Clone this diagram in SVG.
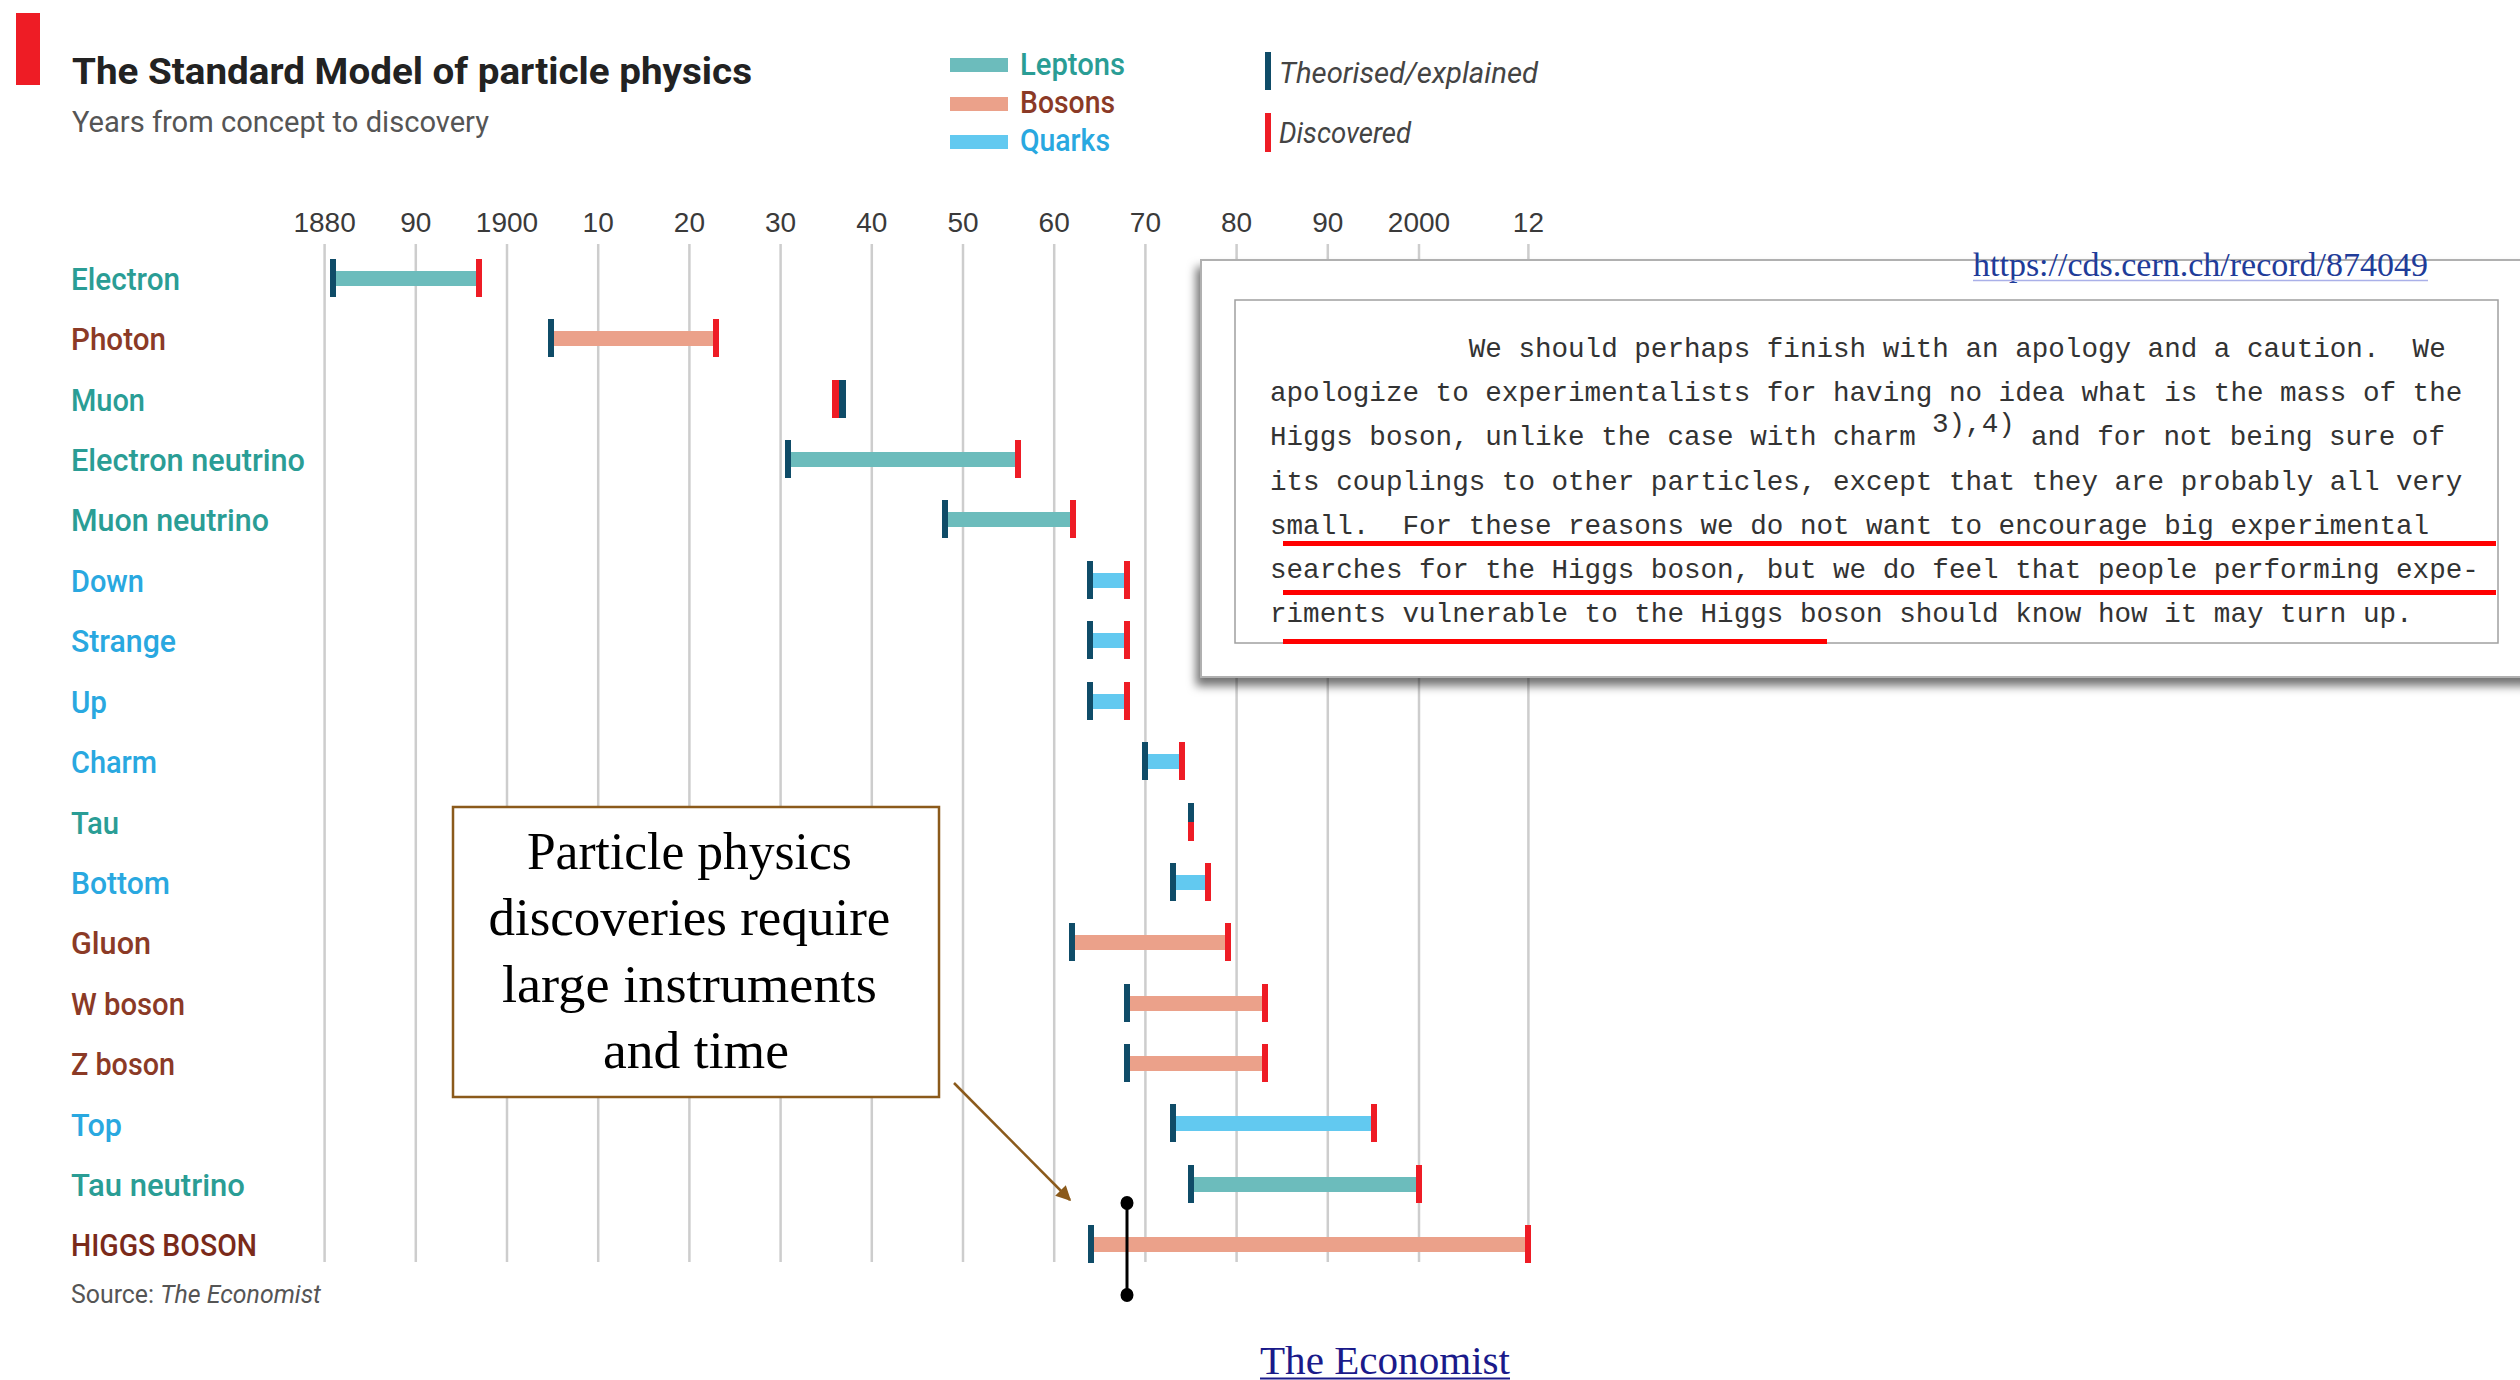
<svg xmlns="http://www.w3.org/2000/svg" width="2520" height="1380" viewBox="0 0 2520 1380">
<defs>
<style>
.lbl{font-family:Roboto,"Liberation Sans",sans-serif;font-weight:500;font-size:31px}
.lep{fill:#2a9d95}.bos{fill:#8b3a26}.qrk{fill:#29a8e0}
.ax{font-family:"Liberation Sans",Arial,sans-serif;font-size:28px;fill:#3a3a3a;text-anchor:middle}
.grid{stroke:#cdcdcd;stroke-width:2.5}
.barL{fill:#6cbcbc}.barB{fill:#eba18a}.barQ{fill:#62c9f0}
.tD{fill:#0f4c68}.tR{fill:#ee1c25}
.mono{font-family:"Liberation Mono","DejaVu Sans Mono",monospace;font-size:27.6px;fill:#333}
.ser{font-family:"Liberation Serif","Times New Roman",serif}
.ul{fill:#ff0000}
</style>
<filter id="shadow" x="-5%" y="-10%" width="110%" height="125%">
<feDropShadow dx="-4" dy="8" stdDeviation="5" flood-color="#000" flood-opacity="0.55"/>
</filter>
<marker id="arr" viewBox="0 0 10 10" refX="9" refY="5" markerWidth="6" markerHeight="6" orient="auto" markerUnits="strokeWidth">
<path d="M0,0 L10,5 L0,10 z" fill="#8b5a1b"/>
</marker>
</defs>
<rect width="2520" height="1380" fill="#fff"/>

<g id="title">
<rect x="16" y="13" width="24" height="72" fill="#ee1c25"/>
<text x="72" y="84" font-family="Roboto,'Liberation Sans',sans-serif" font-weight="700" font-size="37" fill="#222" textLength="680" lengthAdjust="spacingAndGlyphs">The Standard Model of particle physics</text>
<text x="72" y="132" font-family="Roboto,'Liberation Sans',sans-serif" font-size="30" fill="#555" textLength="417" lengthAdjust="spacingAndGlyphs">Years from concept to discovery</text>
</g>

<g id="legend">
<rect x="950" y="58" width="58" height="14" class="barL"/>
<text x="1020" y="75" class="lbl lep" font-size="29" textLength="105" lengthAdjust="spacingAndGlyphs">Leptons</text>
<rect x="950" y="97" width="58" height="14" class="barB"/>
<text x="1020" y="113" class="lbl bos" font-size="29" textLength="95" lengthAdjust="spacingAndGlyphs">Bosons</text>
<rect x="950" y="135" width="58" height="14" class="barQ"/>
<text x="1020" y="151" class="lbl qrk" font-size="29" textLength="90" lengthAdjust="spacingAndGlyphs">Quarks</text>
<rect x="1265" y="52" width="6" height="38" class="tD"/>
<text x="1279" y="83" font-family="Roboto,'Liberation Sans',sans-serif" font-style="italic" font-size="29" fill="#444" textLength="259" lengthAdjust="spacingAndGlyphs">Theorised/explained</text>
<rect x="1265" y="113" width="6" height="39" class="tR"/>
<text x="1279" y="143" font-family="Roboto,'Liberation Sans',sans-serif" font-style="italic" font-size="29" fill="#444" textLength="132" lengthAdjust="spacingAndGlyphs">Discovered</text>
</g>

<g id="axis">
<g class="grid">
<line x1="324.6" y1="244" x2="324.6" y2="1262"/>
<line x1="415.8" y1="244" x2="415.8" y2="1262"/>
<line x1="507" y1="244" x2="507" y2="1262"/>
<line x1="598.2" y1="244" x2="598.2" y2="1262"/>
<line x1="689.4" y1="244" x2="689.4" y2="1262"/>
<line x1="780.6" y1="244" x2="780.6" y2="1262"/>
<line x1="871.8" y1="244" x2="871.8" y2="1262"/>
<line x1="963" y1="244" x2="963" y2="1262"/>
<line x1="1054.2" y1="244" x2="1054.2" y2="1262"/>
<line x1="1145.4" y1="244" x2="1145.4" y2="1262"/>
<line x1="1236.6" y1="244" x2="1236.6" y2="1262"/>
<line x1="1327.8" y1="244" x2="1327.8" y2="1262"/>
<line x1="1419" y1="244" x2="1419" y2="1262"/>
<line x1="1528.4" y1="244" x2="1528.4" y2="1262"/>
</g>
<text class="ax" x="324.6" y="232">1880</text>
<text class="ax" x="415.8" y="232">90</text>
<text class="ax" x="507" y="232">1900</text>
<text class="ax" x="598.2" y="232">10</text>
<text class="ax" x="689.4" y="232">20</text>
<text class="ax" x="780.6" y="232">30</text>
<text class="ax" x="871.8" y="232">40</text>
<text class="ax" x="963" y="232">50</text>
<text class="ax" x="1054.2" y="232">60</text>
<text class="ax" x="1145.4" y="232">70</text>
<text class="ax" x="1236.6" y="232">80</text>
<text class="ax" x="1327.8" y="232">90</text>
<text class="ax" x="1419" y="232">2000</text>
<text class="ax" x="1528.4" y="232">12</text>
</g>

<g id="document">
<rect x="1201" y="260" width="1340" height="417" fill="#fff" stroke="#b0b0b0" stroke-width="2" filter="url(#shadow)"/>
<rect x="1235" y="300" width="1263" height="343" fill="#fff" stroke="#a0a0a0" stroke-width="1.5"/>
<text x="1973" y="276" class="ser" font-size="33" fill="#1f3c99" textLength="455" lengthAdjust="spacingAndGlyphs">https://cds.cern.ch/record/874049</text>
<line x1="1973" y1="280.5" x2="2428" y2="280.5" stroke="#aab0e8" stroke-width="1.5"/>
<text class="mono" x="1270" y="357" xml:space="preserve">            We should perhaps finish with an apology and a caution.  We</text>
<text class="mono" x="1270" y="401">apologize to experimentalists for having no idea what is the mass of the</text>
<text class="mono" x="1270" y="445" xml:space="preserve">Higgs boson, unlike the case with charm </text>
<text class="mono" x="1932" y="432" font-size="26">3),4)</text>
<text class="mono" x="2031" y="445">and for not being sure of</text>
<text class="mono" x="1270" y="490">its couplings to other particles, except that they are probably all very</text>
<text class="mono" x="1270" y="534" xml:space="preserve">small.  For these reasons we do not want to encourage big experimental</text>
<text class="mono" x="1270" y="578">searches for the Higgs boson, but we do feel that people performing expe-</text>
<text class="mono" x="1270" y="622">riments vulnerable to the Higgs boson should know how it may turn up.</text>
<rect class="ul" x="1283" y="541" width="1213" height="5"/>
<rect class="ul" x="1283" y="590" width="1213" height="5"/>
<rect class="ul" x="1283" y="639" width="544" height="5"/>
</g>

<g id="rows">
<g id="row-electron">
<text class="lbl lep" x="71" y="290" textLength="109" lengthAdjust="spacingAndGlyphs">Electron</text>
<rect class="barL" x="333" y="271" width="146" height="15"/>
<rect class="tD" x="330" y="259" width="6" height="38"/>
<rect class="tR" x="476" y="259" width="6" height="38"/>
</g>
<g id="row-photon">
<text class="lbl bos" x="71" y="350" textLength="95" lengthAdjust="spacingAndGlyphs">Photon</text>
<rect class="barB" x="551" y="331" width="165" height="15"/>
<rect class="tD" x="548" y="319" width="6" height="38"/>
<rect class="tR" x="713" y="319" width="6" height="38"/>
</g>
<g id="row-muon">
<text class="lbl lep" x="71" y="411" textLength="74" lengthAdjust="spacingAndGlyphs">Muon</text>
<rect class="tR" x="832" y="380" width="7" height="38"/>
<rect class="tD" x="839" y="380" width="7" height="38"/>
</g>
<g id="row-electron-neutrino">
<text class="lbl lep" x="71" y="471" textLength="234" lengthAdjust="spacingAndGlyphs">Electron neutrino</text>
<rect class="barL" x="788" y="452" width="230" height="15"/>
<rect class="tD" x="785" y="440" width="6" height="38"/>
<rect class="tR" x="1015" y="440" width="6" height="38"/>
</g>
<g id="row-muon-neutrino">
<text class="lbl lep" x="71" y="531" textLength="198" lengthAdjust="spacingAndGlyphs">Muon neutrino</text>
<rect class="barL" x="945" y="512" width="128" height="15"/>
<rect class="tD" x="942" y="500" width="6" height="38"/>
<rect class="tR" x="1070" y="500" width="6" height="38"/>
</g>
<g id="row-down">
<text class="lbl qrk" x="71" y="592" textLength="73" lengthAdjust="spacingAndGlyphs">Down</text>
<rect class="barQ" x="1090" y="573" width="37" height="15"/>
<rect class="tD" x="1087" y="561" width="6" height="38"/>
<rect class="tR" x="1124" y="561" width="6" height="38"/>
</g>
<g id="row-strange">
<text class="lbl qrk" x="71" y="652" textLength="105" lengthAdjust="spacingAndGlyphs">Strange</text>
<rect class="barQ" x="1090" y="633" width="37" height="15"/>
<rect class="tD" x="1087" y="621" width="6" height="38"/>
<rect class="tR" x="1124" y="621" width="6" height="38"/>
</g>
<g id="row-up">
<text class="lbl qrk" x="71" y="713" textLength="36" lengthAdjust="spacingAndGlyphs">Up</text>
<rect class="barQ" x="1090" y="694" width="37" height="15"/>
<rect class="tD" x="1087" y="682" width="6" height="38"/>
<rect class="tR" x="1124" y="682" width="6" height="38"/>
</g>
<g id="row-charm">
<text class="lbl qrk" x="71" y="773" textLength="86" lengthAdjust="spacingAndGlyphs">Charm</text>
<rect class="barQ" x="1145" y="754" width="37" height="15"/>
<rect class="tD" x="1142" y="742" width="6" height="38"/>
<rect class="tR" x="1179" y="742" width="6" height="38"/>
</g>
<g id="row-tau">
<text class="lbl lep" x="71" y="834" textLength="48" lengthAdjust="spacingAndGlyphs">Tau</text>
<rect class="tD" x="1188" y="803" width="6" height="19"/>
<rect class="tR" x="1188" y="822" width="6" height="19"/>
</g>
<g id="row-bottom">
<text class="lbl qrk" x="71" y="894" textLength="99" lengthAdjust="spacingAndGlyphs">Bottom</text>
<rect class="barQ" x="1173" y="875" width="35" height="15"/>
<rect class="tD" x="1170" y="863" width="6" height="38"/>
<rect class="tR" x="1205" y="863" width="6" height="38"/>
</g>
<g id="row-gluon">
<text class="lbl bos" x="71" y="954" textLength="80" lengthAdjust="spacingAndGlyphs">Gluon</text>
<rect class="barB" x="1072" y="935" width="156" height="15"/>
<rect class="tD" x="1069" y="923" width="6" height="38"/>
<rect class="tR" x="1225" y="923" width="6" height="38"/>
</g>
<g id="row-w-boson">
<text class="lbl bos" x="71" y="1015" textLength="114" lengthAdjust="spacingAndGlyphs">W boson</text>
<rect class="barB" x="1127" y="996" width="138" height="15"/>
<rect class="tD" x="1124" y="984" width="6" height="38"/>
<rect class="tR" x="1262" y="984" width="6" height="38"/>
</g>
<g id="row-z-boson">
<text class="lbl bos" x="71" y="1075" textLength="104" lengthAdjust="spacingAndGlyphs">Z boson</text>
<rect class="barB" x="1127" y="1056" width="138" height="15"/>
<rect class="tD" x="1124" y="1044" width="6" height="38"/>
<rect class="tR" x="1262" y="1044" width="6" height="38"/>
</g>
<g id="row-top">
<text class="lbl qrk" x="71" y="1136" textLength="51" lengthAdjust="spacingAndGlyphs">Top</text>
<rect class="barQ" x="1173" y="1116" width="201" height="15"/>
<rect class="tD" x="1170" y="1104" width="6" height="38"/>
<rect class="tR" x="1371" y="1104" width="6" height="38"/>
</g>
<g id="row-tau-neutrino">
<text class="lbl lep" x="71" y="1196" textLength="174" lengthAdjust="spacingAndGlyphs">Tau neutrino</text>
<rect class="barL" x="1191" y="1177" width="228" height="15"/>
<rect class="tD" x="1188" y="1165" width="6" height="38"/>
<rect class="tR" x="1416" y="1165" width="6" height="38"/>
</g>
<g id="row-higgs">
<text class="lbl" x="71" y="1256" fill="#7a2a1a" font-weight="700" textLength="186" lengthAdjust="spacingAndGlyphs">HIGGS BOSON</text>
<rect class="barB" x="1091" y="1237" width="437" height="15"/>
<rect class="tD" x="1088" y="1225" width="6" height="38"/>
<rect class="tR" x="1525" y="1225" width="6" height="38"/>
</g>
</g>

<g id="annotation">
<rect x="453" y="807" width="486" height="290" fill="#fff" stroke="#8b5a1b" stroke-width="2.5"/>
<text class="ser" font-size="53" fill="#000" text-anchor="middle">
<tspan x="696" y="869" textLength="325" lengthAdjust="spacingAndGlyphs">Particle physics</tspan>
<tspan x="696" y="935" textLength="402" lengthAdjust="spacingAndGlyphs">discoveries require</tspan>
<tspan x="696" y="1002" textLength="375" lengthAdjust="spacingAndGlyphs">large instruments</tspan>
<tspan x="696" y="1068" textLength="186" lengthAdjust="spacingAndGlyphs">and time</tspan>
</text>
</g>

<g id="connectors">
<line x1="954" y1="1083" x2="1070" y2="1200" stroke="#8b5a1b" stroke-width="2.5" marker-end="url(#arr)"/>
<line x1="1127" y1="1203" x2="1127" y2="1295" stroke="#000" stroke-width="3"/>
<ellipse cx="1127" cy="1203" rx="6.5" ry="7" fill="#000"/>
<ellipse cx="1127" cy="1295" rx="6.5" ry="7" fill="#000"/>
</g>

<g id="footer">
<text x="71" y="1303" font-family="Roboto,'Liberation Sans',sans-serif" font-size="26" fill="#555" textLength="250" lengthAdjust="spacingAndGlyphs">Source: <tspan font-style="italic">The Economist</tspan></text>
<text x="1260" y="1374" class="ser" font-size="40" fill="#1a1a8a" textLength="250" lengthAdjust="spacingAndGlyphs">The Economist</text>
<line x1="1260" y1="1378.5" x2="1510" y2="1378.5" stroke="#1a1a8a" stroke-width="2"/>
</g>
</svg>
